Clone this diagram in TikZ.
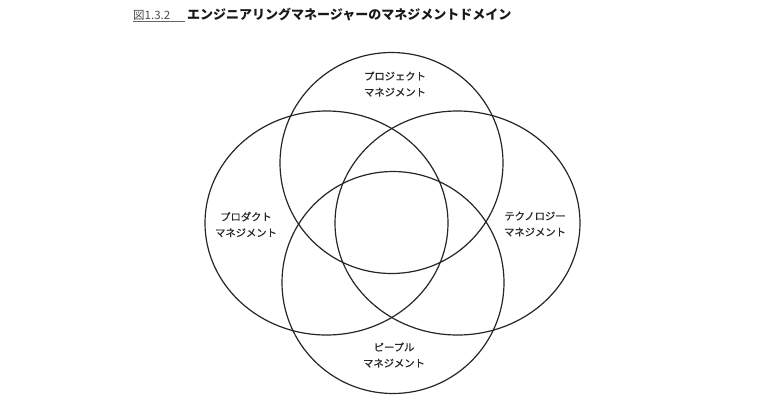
\documentclass[tikz,border=0pt]{standalone}
\usepackage{fontspec}
\setmainfont{Noto Sans CJK JP}
\newfontfamily\jp{Noto Sans CJK JP}
\newfontfamily\jpl[FakeBold=0.6]{Noto Sans CJK JP}
\begin{document}
\begin{tikzpicture}[x=1pt,y=-1pt,
  venn/.style={draw=black!85,line width=1.2pt},
  lbl/.style={font=\jpl\fontsize{10.3}{16}\selectfont,align=center,text=black!85,inner sep=0pt}]
\useasboundingbox (0,0) rectangle (768,400);
\fill[white] (0,0) rectangle (768,400);
% ellipses
\draw[venn] (391.5,163) ellipse [x radius=111.5, y radius=110.5];
\draw[venn] (326.5,223) ellipse [x radius=121.5, y radius=112];
\draw[venn] (457.5,223) ellipse [x radius=122.5, y radius=112];
\draw[venn] (393,282.5) ellipse [x radius=111, y radius=111];
% labels
\node[lbl] (proj) at (395,84) {プロジェクト\\マネジメント};
\node[lbl] (prod) at (246,224.5) {プロダクト\\マネジメント};
\node[lbl] (tech) at (535,224) {テクノロジー\\マネジメント};
\node[lbl] (ppl) at (394,355) {ピープル\\マネジメント};
% title
\node[anchor=west,inner sep=0pt,font=\jp\fontsize{11.5}{12}\selectfont,text=black!70] (fig) at (133,15) {図1.3.2};
\coordinate (ulA) at (133,21.5);
\coordinate (ulB) at (185,21.5);
\draw[black!60,line width=0.6pt] (ulA) -- (ulB);
\node[anchor=west,inner sep=0pt,font=\jp\bfseries\fontsize{13}{14}\selectfont,text=black!90] (title) at (187,15) {エンジニアリングマネージャーのマネジメントドメイン};
\end{tikzpicture}
\end{document}
